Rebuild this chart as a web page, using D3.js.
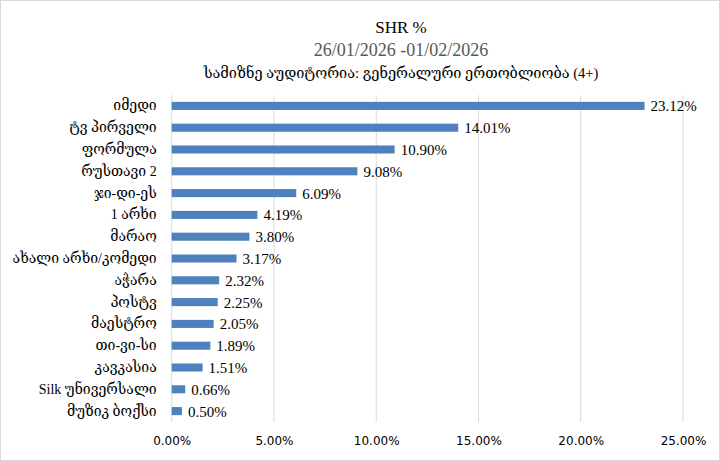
<!DOCTYPE html>
<html><head><meta charset="utf-8">
<script src="https://cdn.jsdelivr.net/npm/d3@7"></script>
<style>
html,body{margin:0;padding:0;background:#fff;}
svg{display:block;}
</style></head>
<body>
<svg id="chart" width="720" height="461"></svg>
<script>
const categories = ["იმედი","ტვ პირველი","ფორმულა","რუსთავი 2 ","ჯი-დი-ეს","1 არხი","მარაო","ახალი არხი/კომედი","აჭარა","პოსტვ","მაესტრო","თი-ვი-სი","კავკასია","Silk უნივერსალი","მუზიკ ბოქსი"];
const values = [23.12,14.01,10.90,9.08,6.09,4.19,3.80,3.17,2.32,2.25,2.05,1.89,1.51,0.66,0.50];
const ticks = [0,5,10,15,20,25];
const title = "SHR %";
const dateLine = "26/01/2026 -01/02/2026";
const audience = "სამიზნე აუდიტორია: გენერალური ერთობლიობა (4+)";

const serif = "'Liberation Serif','DejaVu Serif',serif";
const svg = d3.select("#chart");
svg.append("rect").attr("x",0.5).attr("y",0.5).attr("width",719).attr("height",460)
  .attr("fill","#fff").attr("stroke","#d9d9d9");

const x = d3.scaleLinear().domain([0,25]).range([171.7,683]);
const y = d3.scaleBand().domain(categories).range([95,422]).paddingInner(0.63).paddingOuter(0.315);

// gridlines
svg.append("g").selectAll("line").data(ticks).join("line")
  .attr("x1",d=>x(d)).attr("x2",d=>x(d)).attr("y1",95).attr("y2",422)
  .attr("stroke","#d9d9d9").attr("stroke-width",1);

// bars
svg.append("g").selectAll("rect").data(values).join("rect")
  .attr("x",x(0)).attr("y",(d,i)=>y(categories[i]))
  .attr("width",d=>x(d)-x(0)).attr("height",y.bandwidth())
  .attr("fill","#4f81bd");

// value labels
svg.append("g").selectAll("text").data(values).join("text")
  .attr("x",d=>x(d)+6).attr("y",(d,i)=>y(categories[i])+y.bandwidth()/2)
  .attr("dy","0.36em").attr("font-family",serif).attr("font-size",15).attr("fill","#000")
  .text(d=>d.toFixed(2)+"%");

// category axis
const yAxis = d3.axisLeft(y).tickSize(0).tickPadding(15);
const ya = svg.append("g").attr("transform",`translate(${x(0)},0)`).call(yAxis);
ya.select(".domain").remove();
ya.selectAll("text").attr("font-family",serif).attr("font-size",14).attr("fill","#000");

// x axis
const xAxis = d3.axisBottom(x).tickValues(ticks).tickSize(0).tickPadding(14).tickFormat(d=>d.toFixed(2)+"%");
const xa = svg.append("g").attr("transform","translate(0,422)").call(xAxis);
xa.select(".domain").remove();
xa.selectAll("text").attr("font-family","'DejaVu Sans',sans-serif").attr("font-size",12).attr("fill","#000");

// titles
const cx = 401;
svg.append("text").attr("x",cx).attr("y",33).attr("text-anchor","middle")
  .attr("font-family",serif).attr("font-size",17).attr("fill","#000").text(title);
svg.append("text").attr("x",cx).attr("y",56).attr("text-anchor","middle")
  .attr("font-family",serif).attr("font-size",18).attr("fill","#595959").text(dateLine);
svg.append("text").attr("x",cx).attr("y",78).attr("text-anchor","middle")
  .attr("font-family",serif).attr("font-size",14.5).attr("fill","#000").text(audience);
</script>
</body></html>
